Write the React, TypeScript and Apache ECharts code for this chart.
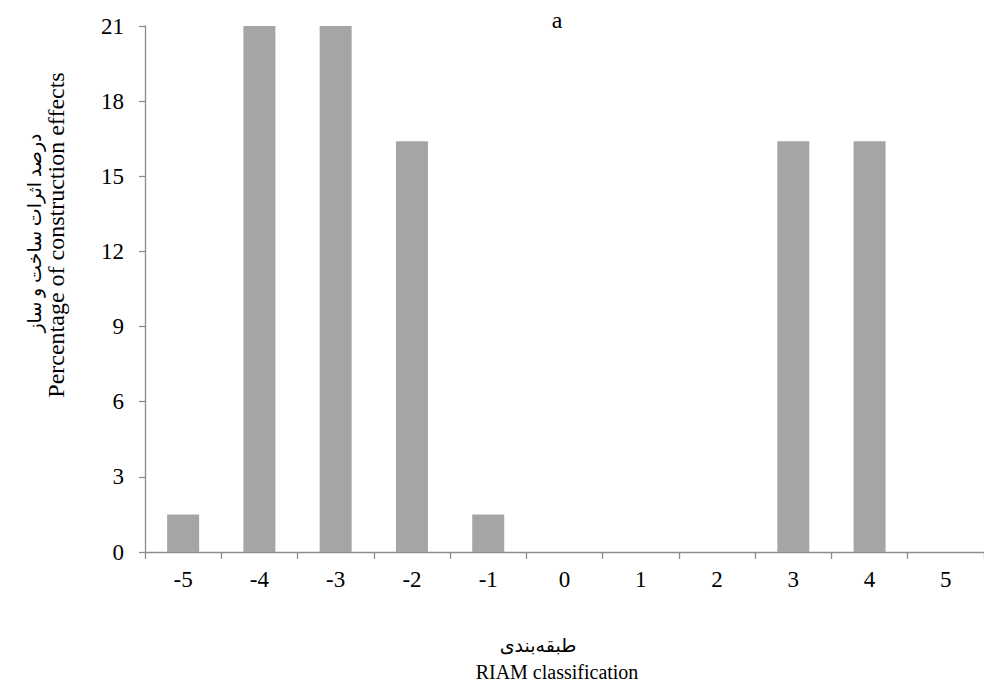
import React, { useEffect, useRef } from "react";
import * as echarts from "echarts";

const categories = ["-5", "-4", "-3", "-2", "-1", "0", "1", "2", "3", "4", "5"];
const percentages = [1.5, 21, 21, 16.4, 1.5, 0, 0, 0, 16.4, 16.4, 0];
const titleText = "a";
const yTitleFa = "درصد اثرات ساخت و ساز";
const yTitleEn = "Percentage of construction effects";
const xTitleFa = "طبقه‌بندی";
const xTitleEn = "RIAM classification";

const FONT = "'Liberation Serif', 'Times New Roman', 'DejaVu Sans', serif";

export default function App() {
  const ref = useRef<HTMLDivElement>(null);
  useEffect(() => {
    if (!ref.current) return;
    const chart = echarts.init(ref.current, undefined, { renderer: "svg" });
    chart.setOption({
      animation: false,
      backgroundColor: "#ffffff",
      textStyle: { fontFamily: FONT },
      grid: { left: 145, top: 26, bottom: 137, width: 847, containLabel: false },
      xAxis: {
        type: "category",
        data: categories,
        axisLine: { show: true, lineStyle: { color: "#8c8c8c", width: 1.3 } },
        axisTick: { show: true, alignWithLabel: false, length: 7, lineStyle: { color: "#8c8c8c", width: 1.3 } },
        axisLabel: { color: "#000", fontSize: 23, fontFamily: FONT, margin: 16 },
        splitLine: { show: false },
      },
      yAxis: {
        type: "value",
        min: 0,
        max: 21,
        interval: 3,
        axisLine: { show: true, lineStyle: { color: "#8c8c8c", width: 1.3 } },
        axisTick: { show: true, length: 6, lineStyle: { color: "#8c8c8c", width: 1.3 } },
        axisLabel: { color: "#000", fontSize: 23, fontFamily: FONT, margin: 21 },
        splitLine: { show: false },
      },
      series: [
        {
          type: "bar",
          data: percentages,
          barWidth: 32,
          itemStyle: { color: "#a5a5a5" },
        },
      ],
      graphic: [
        {
          type: "text",
          x: 557,
          y: 20,
          style: { text: titleText, fontSize: 24, fontFamily: FONT, fill: "#000", align: "center", verticalAlign: "middle" },
        },
        {
          type: "text",
          x: 34,
          y: 233,
          rotation: Math.PI / 2,
          style: { text: yTitleFa, fontSize: 19, fontFamily: FONT, fill: "#000", align: "center", verticalAlign: "middle" },
        },
        {
          type: "text",
          x: 56,
          y: 235,
          rotation: Math.PI / 2,
          style: { text: yTitleEn, fontSize: 24, fontFamily: FONT, fill: "#000", align: "center", verticalAlign: "middle" },
        },
        {
          type: "text",
          x: 538,
          y: 645,
          style: { text: xTitleFa, fontSize: 19, fontFamily: FONT, fill: "#000", align: "center", verticalAlign: "middle" },
        },
        {
          type: "text",
          x: 557,
          y: 672,
          style: { text: xTitleEn, fontSize: 20, fontFamily: FONT, fill: "#000", align: "center", verticalAlign: "middle" },
        },
      ],
    });
    return () => chart.dispose();
  }, []);
  return <div ref={ref} style={{ width: 984, height: 689, position: "absolute", left: 0, top: 0 }} />;
}
